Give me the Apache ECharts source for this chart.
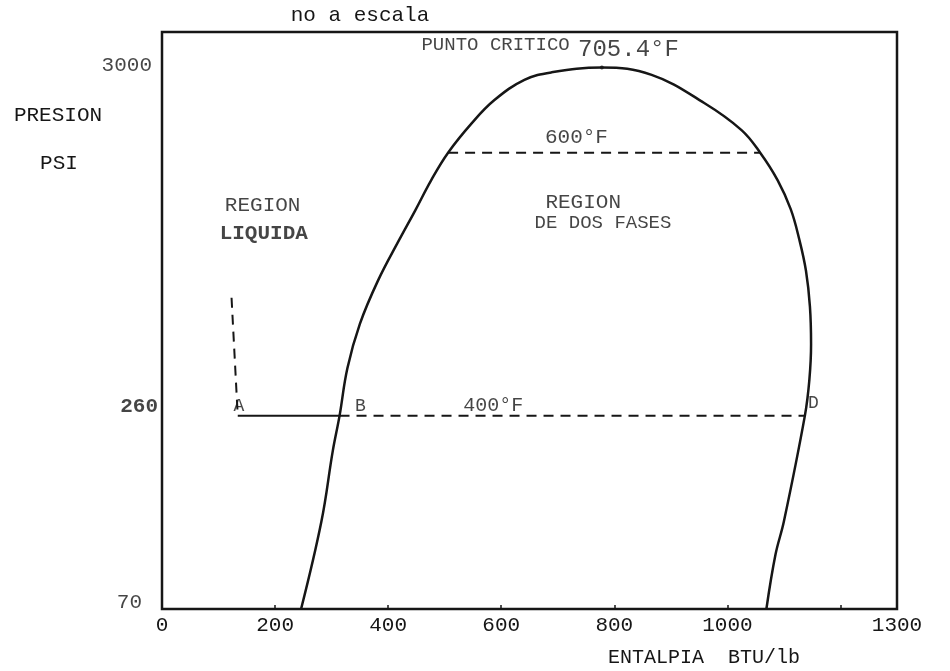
<!DOCTYPE html>
<html lang="es">
<head>
<meta charset="UTF-8">
<title>Diagrama presion-entalpia</title>
<script src="https://cdn.jsdelivr.net/npm/echarts@6/dist/echarts.min.js"></script>
<style>
    html, body { margin: 0; background: #fff; }
    #chart { width: 950px; height: 671px; }
</style>
</head>
<body>
<div id="chart"></div>
<script>
// ejes (no a escala)
var enthalpyTicks = [0, 200, 400, 600, 800, 1000, 1300];
var pressureTicks = [70, 260, 3000];

// campana de saturacion: entalpia (BTU/lb) y presion (psi)
var domeH = [246, 282, 302, 314, 328, 350, 382, 419, 448, 476, 506, 548, 588, 641, 689, 778, 866, 959, 1025, 1058, 1089, 1112, 1127, 1139, 1146, 1148, 1145, 1137, 1100, 1085, 1069];
var domeP = [67, 124, 203, 260, 364, 496, 672, 891, 1101, 1359, 1650, 2031, 2388, 2750, 2900, 3000, 2848, 2339, 1934, 1650, 1359, 1110, 900, 720, 560, 430, 335, 260, 124, 98, 67];

// isoterma 600 F dentro de la campana
var iso600H = [506, 1058];
var iso600P = [1650, 1650];

// proceso a 400 F
var compressH = [123, 134];
var compressP = [596, 260];
var heatH = [134, 314];
var heatP = [260, 260];
var boilH = [314, 1137];
var boilP = [260, 260];

// punto critico
var criticalH = [778];
var criticalP = [3000];

// textos dentro del diagrama
var annText = ['PUNTO CRITICO', '705.4°F', '600°F', 'REGION', 'LIQUIDA', 'REGION', 'DE DOS FASES', 'A', 'B', '400°F', 'D'];
var annH = [590, 825, 733, 178, 180, 745, 780, 136, 351, 586, 1152];
var annP = [3516, 3396, 1840, 1138, 935, 1163, 1010, 279, 279, 279, 285];

// estilos
var mono = "'Liberation Mono', 'DejaVu Sans Mono', monospace";
var ink = '#161616';
var annSize = [19, 24, 21, 21, 21, 21, 19, 18, 18, 20, 18];
var annBold = [false, false, false, false, true, false, false, false, false, false, false];
var yLabelGap = [20, 4, 10];
var yLabelShift = [0, -9, -2];
var yLabelBold = [false, true, false];

function pairs(h, p) {
    return h.map(function (v, i) { return [v, p[i]]; });
}

function lineSeries(h, p, dashed, width) {
    return {
        type: 'line',
        data: pairs(h, p),
        showSymbol: false,
        silent: true,
        lineStyle: { color: ink, width: width, type: dashed ? [10, 7] : 'solid' }
    };
}

var chart = echarts.init(document.getElementById('chart'));

var dome = lineSeries(domeH, domeP, false, 2.5);
dome.smooth = 0.4;

var option = {
    animation: false,
    backgroundColor: '#fff',
    grid: {
        left: 162, right: 53, top: 32, bottom: 62,
        show: true, borderColor: ink, borderWidth: 2.5, backgroundColor: 'transparent'
    },
    xAxis: {
        type: 'value', min: 0, max: 1300, interval: 200,
        axisLine: { show: false },
        axisTick: { inside: true, length: 4, lineStyle: { color: ink, width: 1.5 } },
        axisLabel: {
            customValues: enthalpyTicks, color: ink, fontFamily: mono, fontSize: 21, margin: 6,
            formatter: function (v) { return String(v); }
        },
        splitLine: { show: false }
    },
    yAxis: {
        type: 'log', logBase: 10, min: 67, max: 3850,
        axisLine: { show: false },
        axisTick: { show: false },
        axisLabel: { show: false },
        splitLine: { show: false }
    },
    graphic: [
        { type: 'text', x: 360, y: 15, style: { text: 'no a escala', fontFamily: mono, fontSize: 21, fill: ink, align: 'center', verticalAlign: 'middle' } },
        { type: 'text', x: 58, y: 115, style: { text: 'PRESION', fontFamily: mono, fontSize: 21, fill: ink, align: 'center', verticalAlign: 'middle' } },
        { type: 'text', x: 59, y: 163, style: { text: 'PSI', fontFamily: mono, fontSize: 21, fill: ink, align: 'center', verticalAlign: 'middle' } },
        { type: 'text', x: 704, y: 658, style: { text: 'ENTALPIA  BTU/lb', fontFamily: mono, fontSize: 20, fill: ink, align: 'center', verticalAlign: 'middle' } }
    ],
    series: [
        dome,
        lineSeries(iso600H, iso600P, true, 2),
        lineSeries(compressH, compressP, true, 2),
        lineSeries(heatH, heatP, false, 2),
        lineSeries(boilH, boilP, true, 2),
        {
            type: 'scatter', silent: true, symbolSize: 4,
            itemStyle: { color: ink },
            data: pairs(criticalH, criticalP)
        },
        {
            // etiquetas del eje de presion
            type: 'scatter', silent: true, symbolSize: 0, clip: false,
            data: pressureTicks.map(function (p, i) {
                return {
                    value: [0, p],
                    label: {
                        show: true, position: 'left', distance: yLabelGap[i], offset: [0, yLabelShift[i]],
                        formatter: String(p), color: ink, fontFamily: mono, fontSize: 21,
                        fontWeight: yLabelBold[i] ? 'bold' : 'normal'
                    }
                };
            })
        },
        {
            type: 'scatter', silent: true, symbolSize: 0, clip: false,
            data: annText.map(function (t, i) {
                return {
                    value: [annH[i], annP[i]],
                    label: {
                        show: true, position: 'inside', formatter: t, color: ink,
                        fontFamily: mono, fontSize: annSize[i], fontWeight: annBold[i] ? 'bold' : 'normal'
                    }
                };
            })
        }
    ]
};

chart.setOption(option);
</script>
</body>
</html>
